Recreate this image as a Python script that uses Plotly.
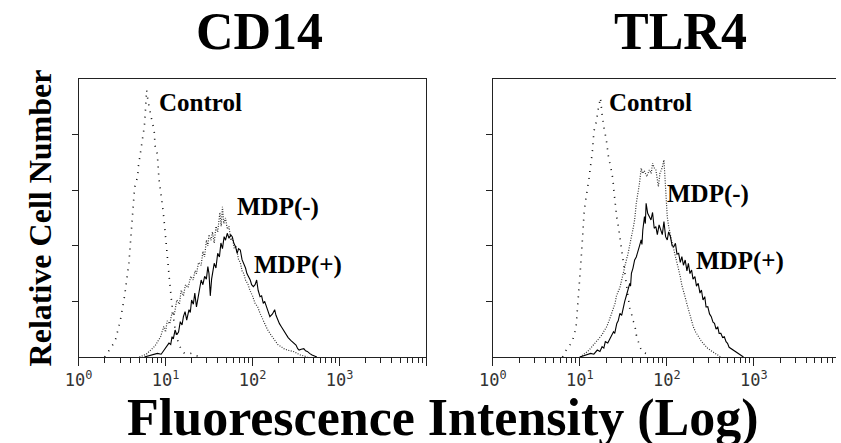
import plotly.graph_objects as go

# ---------------- data (x as log10 fluorescence, y as relative cell number 0-100) ----------------
cd14_ctrl_logx = [0.30, 0.36, 0.42, 0.48, 0.53, 0.58, 0.61, 0.63, 0.645, 0.68, 0.69, 0.71, 0.74, 0.757, 0.768, 0.783,
                  0.80, 0.815, 0.831, 0.85, 0.869, 0.88, 0.906, 0.925, 0.944, 0.963, 0.981, 1.0, 1.02, 1.045, 1.07,
                  1.10, 1.13, 1.16, 1.21, 1.26, 1.30, 1.35, 1.40]
cd14_ctrl_y = [0, 2.6, 5.6, 13, 22, 34, 45, 54, 61, 65, 69, 73, 79, 83, 88, 96,
               92, 90, 87, 84, 82, 76, 73, 64, 60, 55, 50, 43, 35, 28, 20,
               12, 7, 4, 1.5, 1, 1.4, 0.5, 0]

cd14_minus_logx = [0.70, 0.78, 0.83, 0.88, 0.944, 0.98, 1.0, 1.02, 1.05, 1.075, 1.10, 1.13, 1.16, 1.18, 1.206, 1.23,
                   1.26, 1.29, 1.318, 1.34, 1.356, 1.38, 1.41, 1.43, 1.449, 1.47, 1.487, 1.50, 1.524, 1.54, 1.56,
                   1.58, 1.60, 1.625, 1.64, 1.655, 1.67, 1.69, 1.71, 1.73, 1.75, 1.77, 1.79, 1.81, 1.84, 1.86,
                   1.88, 1.90, 1.92, 1.95, 1.97, 2.00, 2.03, 2.06, 2.087, 2.11, 2.14, 2.17, 2.2, 2.23, 2.255,
                   2.29, 2.33, 2.36, 2.4, 2.44, 2.48, 2.52, 2.55, 2.6, 2.63]
cd14_minus_y = [0, 1, 2.5, 4, 7.3, 11, 9, 13, 12, 16, 15, 20.5, 19, 24, 22, 26,
                25, 29, 27.7, 31, 30, 34, 33, 38, 36, 42, 40, 44, 42, 45, 41,
                47, 45, 52, 47, 54, 48, 50, 46, 47, 42, 43, 39, 40, 35, 34,
                31, 30, 27.7, 26, 24, 22, 19.3, 18, 15.7, 14, 12, 10, 8.5, 7, 6,
                4.5, 3.7, 3, 2.5, 2.2, 1.9, 1.2, 0.7, 0.3, 0]

cd14_plus_logx = [0.757, 0.85, 0.907, 0.95, 0.98, 1.01, 1.04, 1.06, 1.075, 1.09, 1.11, 1.13, 1.15, 1.17, 1.19, 1.206,
                  1.225, 1.244, 1.27, 1.285, 1.3, 1.32, 1.337, 1.356, 1.375, 1.393, 1.41, 1.43, 1.45, 1.47, 1.487,
                  1.50, 1.515, 1.53, 1.56, 1.58, 1.6, 1.62, 1.637, 1.655, 1.674, 1.69, 1.71, 1.73, 1.75, 1.767,
                  1.785, 1.805, 1.824, 1.84, 1.86, 1.88, 1.9, 1.92, 1.936, 1.955, 1.974, 1.99, 2.01, 2.03, 2.048,
                  2.065, 2.087, 2.105, 2.124, 2.14, 2.16, 2.18, 2.2, 2.23, 2.255, 2.27, 2.29, 2.31, 2.33, 2.36,
                  2.385, 2.41, 2.44, 2.47, 2.5, 2.52, 2.536, 2.56, 2.59, 2.61, 2.63, 2.66, 2.685, 2.74]
cd14_plus_y = [0, 0.8, 1.3, 1, 2.5, 3.5, 5, 4.5, 7.3, 6.5, 9.7, 8, 9, 12.7, 11.5, 14.5,
               16.3, 13.3, 17, 16, 20.5, 19, 23, 18, 22, 24, 27.7, 26, 29, 28, 32.5,
               30, 22, 28, 33.7, 32, 37.3, 36, 41, 39, 43.3, 42, 44.5, 42.7, 44, 43.3,
               41, 39.7, 37.3, 39, 38.5, 35, 33.7, 32, 30, 29, 27.7, 26, 25.3, 26, 27.7,
               24, 21.7, 22, 19.3, 20, 18, 16, 14.5, 15.5, 17, 15, 13.3, 12, 11, 9.5,
               8, 7, 6, 5, 4.3, 3, 2.5, 2.8, 3, 2.2, 2, 1.2, 0.7, 0]

tlr4_ctrl_logx = [0.80, 0.843, 0.88, 0.918, 0.955, 0.974, 0.993, 1.011, 1.03, 1.049, 1.067, 1.086, 1.105, 1.124,
                  1.142, 1.161, 1.19, 1.206, 1.228, 1.236, 1.255, 1.273, 1.303, 1.318, 1.33, 1.356, 1.379, 1.39,
                  1.404, 1.424, 1.442, 1.46, 1.48, 1.5, 1.517, 1.536, 1.554, 1.575, 1.592, 1.61, 1.629, 1.648,
                  1.667, 1.69, 1.72, 1.76, 1.80]
tlr4_ctrl_y = [0, 2.5, 4, 6.2, 10.4, 17.6, 26, 34, 42.8, 52.4, 56.6, 60.2, 64.4, 69.2,
               73.4, 81.2, 84.8, 88.4, 92, 93.2, 87.2, 83, 78.2, 74.6, 71.6, 68, 64, 60,
               55, 50, 47, 43, 38.5, 33, 29, 25, 20.5, 17, 15.7, 13, 12, 8,
               6, 3.5, 1.9, 1.2, 0]

tlr4_minus_logx = [1.0, 1.049, 1.09, 1.124, 1.16, 1.2, 1.23, 1.255, 1.28, 1.31, 1.34, 1.367, 1.385, 1.404, 1.42,
                   1.442, 1.46, 1.48, 1.50, 1.517, 1.535, 1.554, 1.575, 1.592, 1.61, 1.629, 1.648, 1.665, 1.685,
                   1.704, 1.72, 1.74, 1.768, 1.798, 1.82, 1.835, 1.855, 1.873, 1.902, 1.92, 1.945, 1.966, 1.985,
                   2.004, 2.02, 2.04, 2.06, 2.08, 2.1, 2.116, 2.135, 2.154, 2.17, 2.19, 2.21, 2.228, 2.25, 2.266,
                   2.285, 2.303, 2.33, 2.36, 2.39, 2.416, 2.44, 2.47, 2.51, 2.547, 2.58, 2.62]
tlr4_minus_y = [0, 1, 2, 3.2, 4.5, 6, 7, 8, 9.5, 11, 13.5, 15.7, 17, 19.3, 22,
                24, 25, 27.7, 30, 32.5, 35, 37.3, 40, 43.3, 46, 49.3, 55.3, 58, 62.5,
                67.9, 66, 67, 64.9, 67.3, 66, 69.7, 68, 67.3, 61.3, 66, 68, 70.9, 60,
                50.5, 47, 43.3, 41, 38.5, 36, 33.7, 31, 28.9, 26, 24, 21.5, 19.3, 16.5, 14.5,
                12.5, 10.9, 9, 7.3, 6, 4.9, 4, 3.1, 2.2, 1.3, 0.8, 0]

tlr4_plus_logx = [1.0, 1.06, 1.124, 1.16, 1.2, 1.23, 1.255, 1.275, 1.292, 1.32, 1.348, 1.365, 1.386, 1.40, 1.424,
                  1.44, 1.46, 1.48, 1.498, 1.515, 1.536, 1.555, 1.573, 1.582, 1.592, 1.61, 1.629, 1.648, 1.667,
                  1.685, 1.704, 1.713, 1.723, 1.742, 1.752, 1.761, 1.779, 1.798, 1.817, 1.835, 1.854, 1.873,
                  1.89, 1.91, 1.929, 1.947, 1.966, 1.985, 2.004, 2.02, 2.04, 2.06, 2.08, 2.098, 2.116, 2.135,
                  2.154, 2.172, 2.19, 2.21, 2.23, 2.247, 2.265, 2.284, 2.30, 2.322, 2.34, 2.36, 2.38, 2.397,
                  2.415, 2.435, 2.45, 2.47, 2.49, 2.51, 2.53, 2.547, 2.565, 2.584, 2.6, 2.62, 2.64, 2.66,
                  2.68, 2.697, 2.715, 2.734, 2.76, 2.79, 2.82, 2.846, 2.88]
tlr4_plus_y = [0, 0.5, 1.3, 1, 2.5, 2, 3.7, 3.2, 5.5, 5, 6.7, 7.5, 9.1, 8.5, 12.1,
               13, 15.7, 15, 18.1, 20, 22.3, 24.5, 26.5, 25.5, 30.1, 32, 34.9, 36, 38.5,
               40, 42.1, 40.5, 45.7, 50.5, 48, 55.3, 51.7, 50.5, 49.3, 52, 46.3, 46.9,
               44, 47.5, 45.7, 44, 48.7, 43.3, 42.1, 45, 43.3, 40, 39.7, 40.9, 37, 37.3,
               34, 36.1, 33, 34.9, 31, 33.7, 30, 31.3, 28, 28.9, 25.5, 26.5, 23, 24.1,
               20.5, 21.7, 18, 18.1, 15.5, 14.5, 12.5, 12.1, 10, 10.9, 8.5, 8.5, 7, 7.3,
               5.5, 4.9, 3.5, 3.1, 2.5, 1.9, 1.2, 0.7, 0]

panel_titles = ["CD14", "TLR4"]
x_tick_values = [1, 10, 100, 1000, 10000]
x_tick_labels = ["10<sup>0</sup>", "10<sup>1</sup>", "10<sup>2</sup>", "10<sup>3</sup>", " "]
y_tick_values = [20, 40, 60, 80]
# log minor-tick positions (2..9 within each decade)
minor_vals = [m * 10 ** d for d in range(4) for m in range(2, 10)]

# ---------------- figure ----------------
W, H = 841, 443
fig = go.Figure()

def tolin(v):
    return [10 ** a for a in v]

ctrl_style = dict(color="#111", width=1.6, dash="1px,6px")
minus_style = dict(color="#333", width=1.2, dash="1px,1.5px")
plus_style = dict(color="#000", width=1.1)

for xa, ya, (cx, cy), (mx, my), (px, py) in [
    ("x", "y", (cd14_ctrl_logx, cd14_ctrl_y), (cd14_minus_logx, cd14_minus_y), (cd14_plus_logx, cd14_plus_y)),
    ("x2", "y2", (tlr4_ctrl_logx, tlr4_ctrl_y), (tlr4_minus_logx, tlr4_minus_y), (tlr4_plus_logx, tlr4_plus_y)),
]:
    fig.add_trace(go.Scatter(x=tolin(cx), y=cy, mode="lines", line=ctrl_style, xaxis=xa, yaxis=ya,
                             name="Control", showlegend=False))
    fig.add_trace(go.Scatter(x=tolin(mx), y=my, mode="lines", line=minus_style, xaxis=xa, yaxis=ya,
                             name="MDP(-)", showlegend=False))
    fig.add_trace(go.Scatter(x=tolin(px), y=py, mode="lines", line=plus_style, xaxis=xa, yaxis=ya,
                             name="MDP(+)", showlegend=False))

# pixel geometry
L_left, L_right = 66, 422
R_left = 490
y_top, y_base = 79, 357
decade_px = (L_right - L_left) / 4.0
right_max = (W - R_left) / decade_px

ydom = [(H - y_base) / H, (H - y_top) / H]

axis_common = dict(
    type="log", showgrid=False, zeroline=False, showline=True, linecolor="#222", linewidth=1,
    ticks="outside", ticklen=8, tickwidth=1, tickcolor="#222",
    tickmode="array", tickvals=x_tick_values, ticktext=x_tick_labels,
    tickfont=dict(family="DejaVu Sans Mono", size=17, color="#333"),
    minor=dict(tickmode="array", tickvals=minor_vals, ticks="outside", ticklen=5, tickwidth=1,
               tickcolor="#222", showgrid=False),
)
yaxis_common = dict(
    range=[0, 100], showgrid=False, zeroline=False, showline=True, linecolor="#222", linewidth=1,
    ticks="outside", ticklen=6, tickwidth=1, tickcolor="#222",
    tickmode="array", tickvals=y_tick_values, showticklabels=False, domain=ydom,
)

fig.update_layout(
    width=W, height=H, margin=dict(l=0, r=0, t=0, b=0),
    paper_bgcolor="white", plot_bgcolor="white", showlegend=False,
    xaxis=dict(axis_common, domain=[L_left / W, L_right / W], range=[0, 4], mirror=True, anchor="y"),
    xaxis2=dict(axis_common, domain=[R_left / W, 1.0], range=[0, right_max], mirror=True, anchor="y2"),
    yaxis=dict(yaxis_common, mirror=True, anchor="x"),
    yaxis2=dict(yaxis_common, mirror=False, anchor="x2"),
)

serif = "Liberation Serif"
ann = []
# panel titles
ann.append(dict(text="<b>" + panel_titles[0] + "</b>", x=251 / W, y=(H - 31.5) / H, xref="paper", yref="paper",
                showarrow=False, xanchor="center", yanchor="middle", font=dict(family=serif, size=52, color="black")))
ann.append(dict(text="<b>" + panel_titles[1] + "</b>", x=682 / W, y=(H - 31.5) / H, xref="paper", yref="paper",
                showarrow=False, xanchor="center", yanchor="middle", font=dict(family=serif, size=52, color="black")))
# axis titles
ann.append(dict(text="<b>Relative Cell Number</b>", x=27 / W, y=(H - 218) / H, xref="paper", yref="paper",
                showarrow=False, textangle=-90, xanchor="center", yanchor="middle",
                font=dict(family=serif, size=32, color="black")))
ann.append(dict(text="<b>Fluorescence Intensity (Log)</b>", x=439 / W, y=(H - 418) / H, xref="paper", yref="paper",
                showarrow=False, xanchor="center", yanchor="middle",
                font=dict(family=serif, size=52, color="black")))
# curve labels (log10 x, y)
labels = [
    ("x", "y", "Control", 0.91, 91.4),
    ("x", "y", "MDP(-)", 1.809, 54),
    ("x", "y", "MDP(+)", 2.011, 33.1),
    ("x2", "y2", "Control", 1.326, 91.5),
    ("x2", "y2", "MDP(-)", 1.989, 58.6),
    ("x2", "y2", "MDP(+)", 2.326, 34.5),
]
for xr, yr, t, lx, ly in labels:
    ann.append(dict(text="<b>" + t + "</b>", x=lx, y=ly, xref=xr, yref=yr, showarrow=False,
                    xanchor="left", yanchor="middle", borderpad=0,
                    font=dict(family=serif, size=25, color="black")))
fig.update_layout(annotations=ann)

fig.write_html("out.html")
